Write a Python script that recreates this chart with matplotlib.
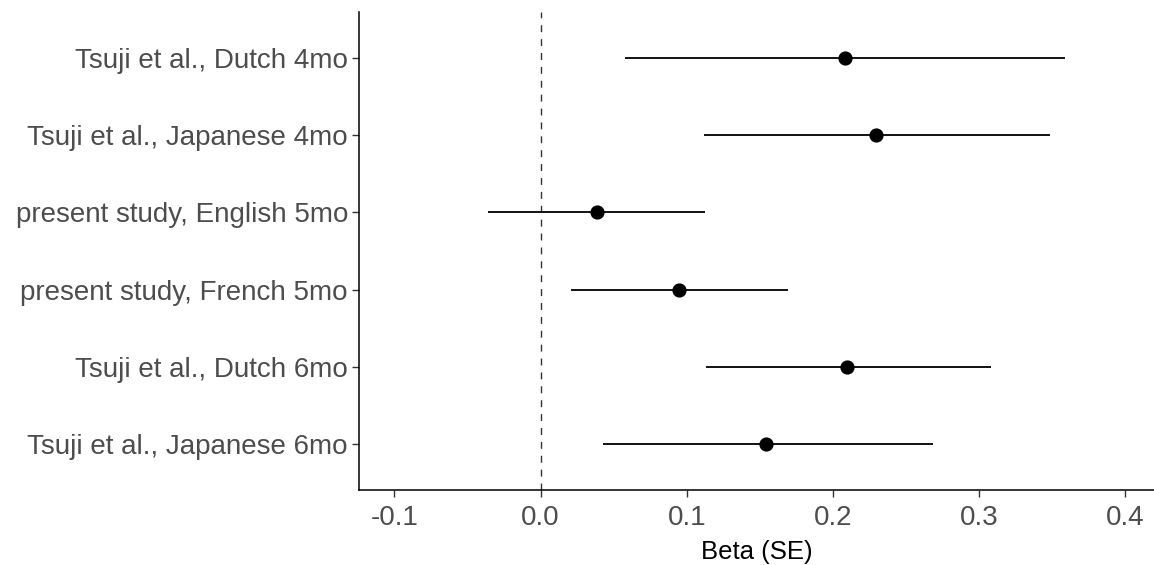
import matplotlib
matplotlib.use("Agg")
import matplotlib.pyplot as plt

# データ（上から順）
studies = [
    "Tsuji et al., Dutch 4mo",
    "Tsuji et al., Japanese 4mo",
    "present study, English 5mo",
    "present study, French 5mo",
    "Tsuji et al., Dutch 6mo",
    "Tsuji et al., Japanese 6mo",
]
beta = [0.2085, 0.2295, 0.0386, 0.0944, 0.2096, 0.1543]
ci_low = [0.0575, 0.1115, -0.0359, 0.0205, 0.1131, 0.0429]
ci_high = [0.3586, 0.3488, 0.1126, 0.1691, 0.3081, 0.2688]
x_ticks = [-0.1, 0.0, 0.1, 0.2, 0.3, 0.4]

plt.rcParams["font.family"] = ["Liberation Sans", "DejaVu Sans"]

fig = plt.figure(figsize=(11.54, 5.65), dpi=100)
ax = fig.add_axes([0.3111, 0.1327, 0.6889, 0.8461])

n = len(studies)
ypos = [n - i for i in range(n)]  # 上から並べる

ax.axvline(0, color="#333333", linewidth=1.0, linestyle=(0, (5, 5)), zorder=1)
ax.hlines(ypos, ci_low, ci_high, color="black", linewidth=1.3, zorder=2)
ax.scatter(beta, ypos, s=85, color="black", zorder=3)

ax.set_xlim(-0.1242, 0.4197)
ax.set_ylim(0.4, n + 0.6)
ax.set_yticks(ypos)
ax.set_yticklabels(studies)
ax.set_xticks(x_ticks)
ax.set_xticklabels([f"{t:.1f}" for t in x_ticks])
ax.set_xlabel("Beta (SE)", fontsize=18.5, color="black", labelpad=6)

ax.tick_params(axis="both", labelsize=20, labelcolor="#4D4D4D", color="#333333",
               length=5, width=1.0)
ax.tick_params(axis="x", pad=6)
ax.tick_params(axis="y", pad=3)
for side in ["top", "right"]:
    ax.spines[side].set_visible(False)
for side in ["left", "bottom"]:
    ax.spines[side].set_linewidth(1.1)
    ax.spines[side].set_color("black")

fig.savefig("out.png", dpi=100)
